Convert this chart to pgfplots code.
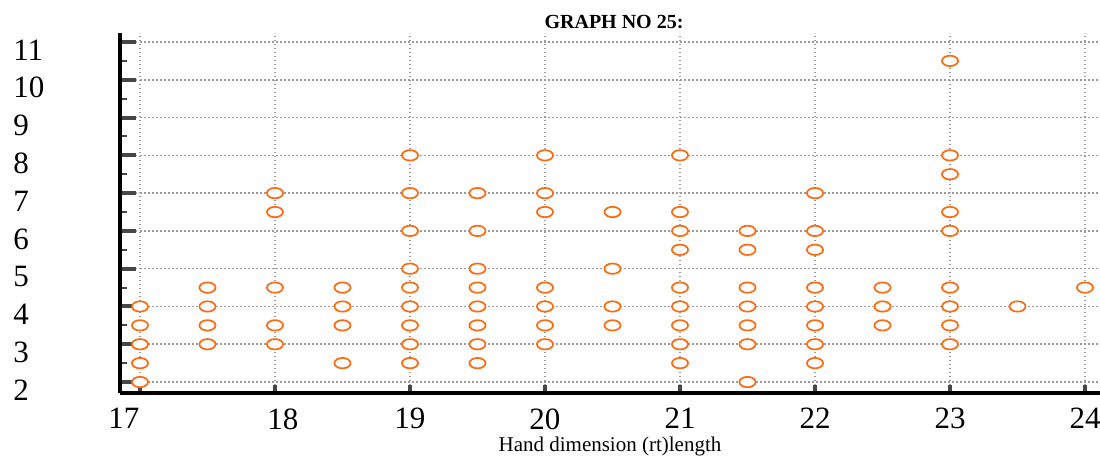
\documentclass[border=0pt]{standalone}
\usepackage{pgfplots}
\pgfplotsset{compat=1.18}
\usepackage{fontspec}
\setmainfont{Liberation Serif}
\definecolor{mk}{RGB}{255,106,16}
\definecolor{gridc}{RGB}{155,155,155}
\definecolor{tickc}{RGB}{70,70,70}
\begin{document}
\begin{tikzpicture}
\begin{axis}[
  scale only axis, width=490pt, height=180pt,
  xmin=16.852, xmax=24.111, ymin=1.709, ymax=11.238,
  axis x line*=bottom, axis y line*=left,
  axis line style={line width=1.75pt, black},
  xtick={17,18,19,20,21,22,23,24},
  ytick={2,3,4,5,6,7,8,9,10,11},
  minor xtick={17.5,18.5,19.5,20.5,21.5,22.5,23.5},
  minor ytick={2.5,3.5,4.5,5.5,6.5,7.5,8.5,9.5,10.5},
  xticklabels={{\makebox[0pt]{17}\makebox[16pt]{}},{\makebox[8pt]{}\makebox[0pt]{18}},19,20,21,22,23,24},
  yticklabels={2,3,4,5,6,7,8,9,10,11},
  tick align=inside,
  major tick length=8pt, minor tick length=3.5pt,
  xtick style={/pgfplots/major tick length=4pt, /pgfplots/minor tick length=1pt},
  major tick style={tickc, line width=2pt},
  minor tick style={tickc, line width=1pt},
  grid=major,
  major grid style={gridc, line width=0.75pt, dash pattern=on 0.75pt off 1.25pt},
  xticklabel style={font=\fontsize{15.5}{18}\selectfont, inner sep=0pt, anchor=north, yshift=-7.5pt},
  yticklabel style={font=\fontsize{15.5}{18}\selectfont, inner sep=0pt, anchor=west, xshift=-53.5pt, yshift=-4pt},
  xlabel={Hand dimension (rt)length},
  xlabel style={font=\fontsize{10.5}{12}\selectfont, at={(axis description cs:0.5,0)}, anchor=north, inner sep=0pt, yshift=-22pt},
  title={GRAPH NO 25:},
  title style={font=\fontsize{10}{12}\selectfont\bfseries, at={(axis description cs:0.5,1)}, anchor=base, inner sep=0pt, yshift=-3.5pt, xshift=2pt},
  clip=false,
]
\addplot[only marks, mark=*, mark size=2.6pt,
  mark options={xscale=1.55, draw=mk, fill=white, line width=0.85pt}]
  coordinates {
  (17,2) (17,2.5) (17,3) (17,3.5) (17,4)
  (17.5,3) (17.5,3.5) (17.5,4) (17.5,4.5)
  (18,3) (18,3.5) (18,4.5) (18,6.5) (18,7)
  (18.5,2.5) (18.5,3.5) (18.5,4) (18.5,4.5)
  (19,2.5) (19,3) (19,3.5) (19,4) (19,4.5) (19,5) (19,6) (19,7) (19,8)
  (19.5,2.5) (19.5,3) (19.5,3.5) (19.5,4) (19.5,4.5) (19.5,5) (19.5,6) (19.5,7)
  (20,3) (20,3.5) (20,4) (20,4.5) (20,6.5) (20,7) (20,8)
  (20.5,3.5) (20.5,4) (20.5,5) (20.5,6.5)
  (21,2.5) (21,3) (21,3.5) (21,4) (21,4.5) (21,5.5) (21,6) (21,6.5) (21,8)
  (21.5,2) (21.5,3) (21.5,3.5) (21.5,4) (21.5,4.5) (21.5,5.5) (21.5,6)
  (22,2.5) (22,3) (22,3.5) (22,4) (22,4.5) (22,5.5) (22,6) (22,7)
  (22.5,3.5) (22.5,4) (22.5,4.5)
  (23,3) (23,3.5) (23,4) (23,4.5) (23,6) (23,6.5) (23,7.5) (23,8) (23,10.5)
  (23.5,4)
  (24,4.5)
  };
\end{axis}
\pgfresetboundingbox
\path[use as bounding box] ([shift={(-60pt,-34pt)}]current axis.south west) rectangle ([shift={(0pt,16.5pt)}]current axis.north east);
\end{tikzpicture}
\end{document}
